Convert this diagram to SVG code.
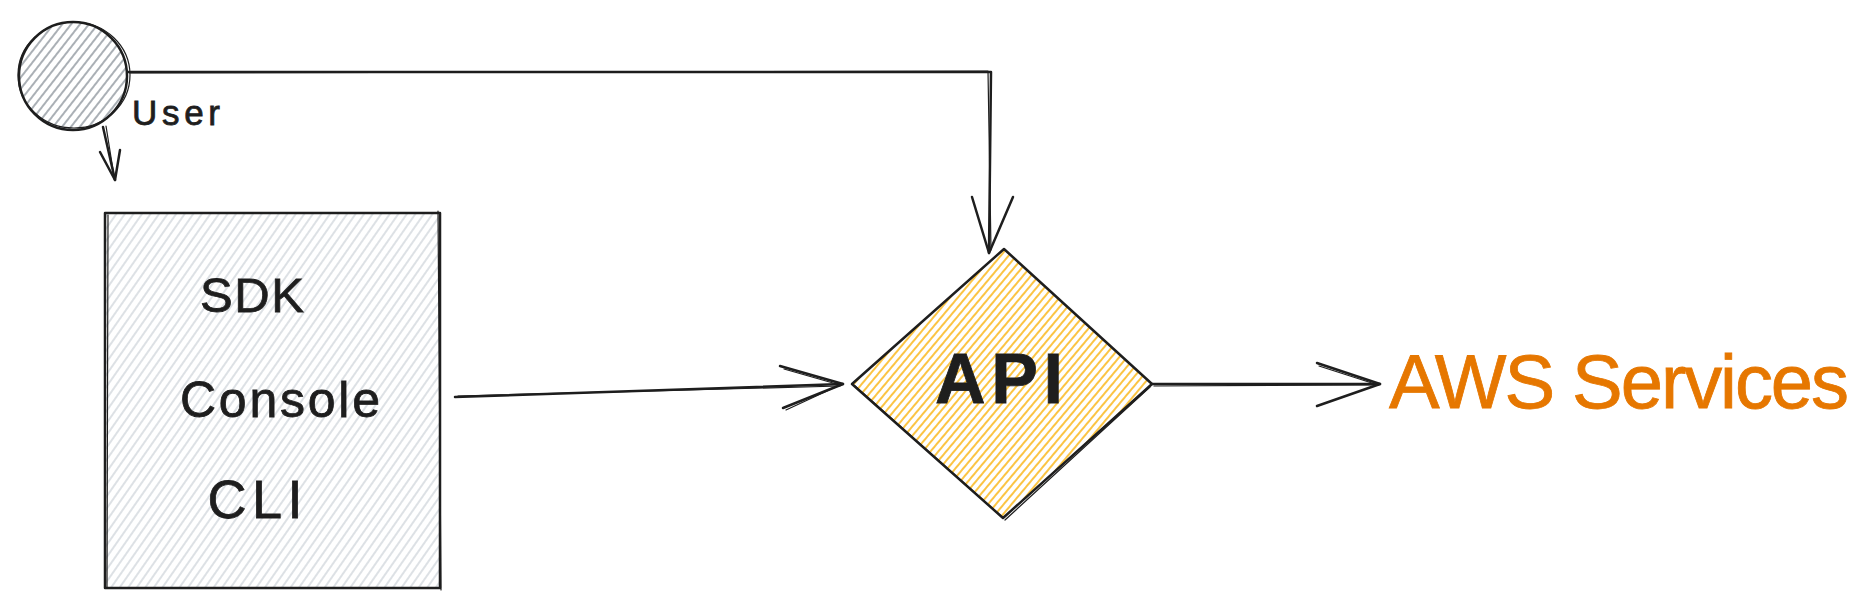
<svg xmlns="http://www.w3.org/2000/svg" width="1873" height="609" viewBox="0 0 1873 609">
<style>
.stk{fill:none;stroke:#1e1e1e;stroke-width:2.5;stroke-linecap:round;stroke-linejoin:round}
.thin{fill:none;stroke:#1e1e1e;stroke-width:1.2;stroke-linecap:round;stroke-linejoin:round}
.lbl{font-family:"Liberation Sans",Arial,sans-serif;fill:#1e1e1e;stroke:#1e1e1e;stroke-width:0.8}
.aws{fill:#e67700;stroke:#e67700}
</style>
<defs>
<pattern id="hatchDark" width="7" height="7" patternUnits="userSpaceOnUse" patternTransform="rotate(38)"><line x1="1" y1="0" x2="1" y2="7" stroke="#868e96" stroke-width="1.4"/></pattern>
<pattern id="hatchLight" width="7" height="7" patternUnits="userSpaceOnUse" patternTransform="rotate(35)"><line x1="1" y1="0" x2="1" y2="7" stroke="#ced4da" stroke-width="1.4"/></pattern>
<pattern id="hatchOrange" width="6" height="6" patternUnits="userSpaceOnUse" patternTransform="rotate(40)"><line x1="1" y1="0" x2="1" y2="6" stroke="#fab005" stroke-width="1.5"/></pattern>
</defs>
<rect width="1873" height="609" fill="#ffffff"/>

<g id="connectors">
  <path class="stk" d="M128,72 L991,72 L989,253"/>
  <path class="thin" d="M130,73 L988,71 L991,250"/>
  <path class="stk" d="M972,197 L989,253 L1013,197"/>
  <path class="stk" d="M103,127 L115,180"/>
  <path class="thin" d="M106,126 L114,176"/>
  <path class="stk" d="M100,152 L115,180 L120,150"/>
  <path class="stk" d="M455,397 L843,384"/>
  <path class="thin" d="M458,396 L840,386"/>
  <path class="stk" d="M780,366 L843,384 L783,408"/>
  <path class="thin" d="M784,369 L840,385 L786,410"/>
  <path class="stk" d="M1152,384 L1380,384"/>
  <path class="thin" d="M1154,386 L1378,385"/>
  <path class="stk" d="M1317,363 L1380,384 L1317,406"/>
  <path class="thin" d="M1319,366 L1378,385"/>
</g>

<g id="node-user">
  <circle cx="73" cy="76" r="54" fill="url(#hatchDark)"/>
  <circle class="stk" cx="73" cy="76" r="54"/>
  <ellipse class="thin" cx="74" cy="75" rx="56" ry="53"/>
  <text class="lbl" x="132" y="125" font-size="35" textLength="88">User</text>
</g>

<g id="node-clients">
  <rect x="105" y="213" width="335" height="375" fill="url(#hatchLight)"/>
  <rect class="stk" x="105" y="213" width="335" height="375"/>
  <path class="thin" d="M108,215 L107,587 M438,211 L441,590"/>
  <text class="lbl" x="252" y="312" font-size="49" text-anchor="middle" textLength="104">SDK</text>
  <text class="lbl" x="280" y="417" font-size="50" text-anchor="middle" textLength="200">Console</text>
  <text class="lbl" x="255" y="518" font-size="54" text-anchor="middle" textLength="95">CLI</text>
</g>

<g id="node-api">
  <path d="M1004,249 L1152,384 L1003,518 L852,384 Z" fill="url(#hatchOrange)"/>
  <path class="stk" d="M1004,249 L1152,384 L1003,518 L852,384 Z"/>
  <path class="thin" d="M855,386 L1001,516 M1150,387 L1005,520"/>
  <text class="lbl" x="999" y="403" font-size="70" font-weight="bold" text-anchor="middle" textLength="128">API</text>
</g>

<g id="node-aws">
  <text class="lbl aws" x="1389" y="408" font-size="76" textLength="460">AWS Services</text>
</g>
</svg>
